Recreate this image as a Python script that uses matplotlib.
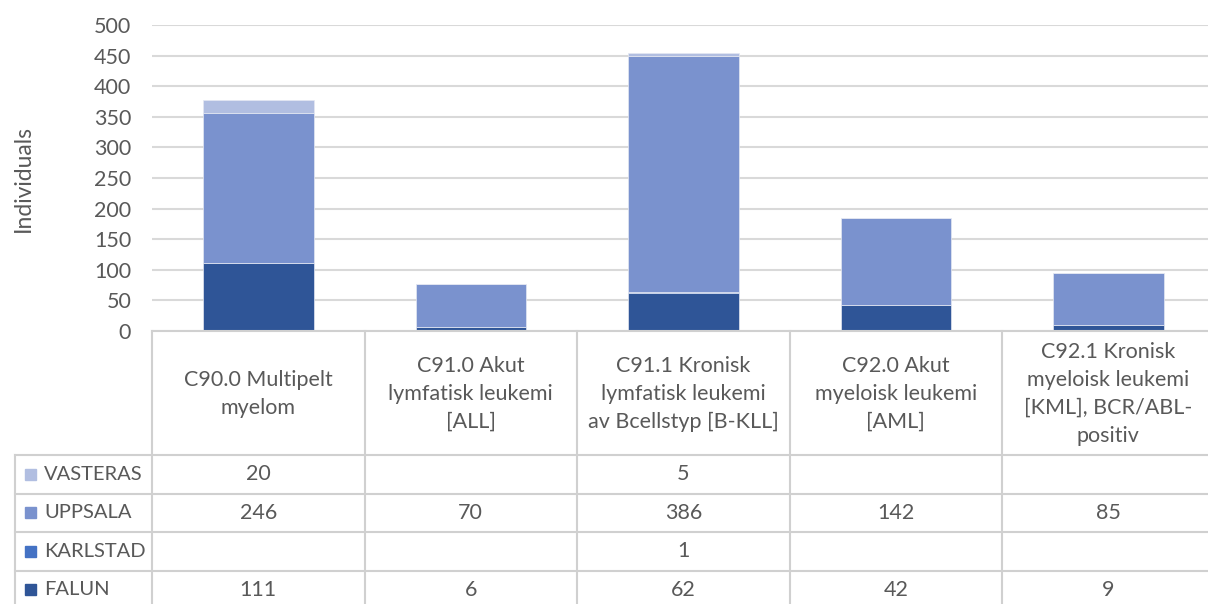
import numpy as np
import matplotlib
matplotlib.use("Agg")
import matplotlib.pyplot as plt
from matplotlib.patches import Rectangle

plt.rcParams['font.family'] = ['Lato', 'DejaVu Sans']

categories = [
    "C90.0 Multipelt\nmyelom",
    "C91.0 Akut\nlymfatisk leukemi\n[ALL]",
    "C91.1 Kronisk\nlymfatisk leukemi\nav Bcellstyp [B-KLL]",
    "C92.0 Akut\nmyeloisk leukemi\n[AML]",
    "C92.1 Kronisk\nmyeloisk leukemi\n[KML], BCR/ABL-\npositiv",
]
falun = [111, 6, 62, 42, 9]
karlstad = [None, None, 1, None, None]
uppsala = [246, 70, 386, 142, 85]
vasteras = [20, None, 5, None, None]

series_names = ["FALUN", "KARLSTAD", "UPPSALA", "VASTERAS"]
series_vals = [falun, karlstad, uppsala, vasteras]
colors = {"FALUN": "#2F5597", "KARLSTAD": "#4472C4",
          "UPPSALA": "#7A92CE", "VASTERAS": "#B1BEE1"}
yticks = [0, 50, 100, 150, 200, 250, 300, 350, 400, 450, 500]

TXT = "#595959"
GRID = "#D9D9D9"
FS = 15.5
W, H = 1208, 604
fig = plt.figure(figsize=(W / 100, H / 100), dpi=100)

# pixel geometry
ax_left, ax_right, ax_top, ax_bot = 152, 1214.5, 25, 331
ax = fig.add_axes([ax_left / W, 1 - ax_bot / H, (ax_right - ax_left) / W, (ax_bot - ax_top) / H])
tax = fig.add_axes([0, 0, 1, 1])
tax.set_xlim(0, W)
tax.set_ylim(H, 0)
tax.axis("off")
tax.patch.set_alpha(0)

x = np.arange(len(categories))
bottom = np.zeros(len(categories))
for name, vals in zip(series_names, series_vals):
    v = np.array([0 if a is None else a for a in vals], dtype=float)
    ax.bar(x, v, width=0.52, bottom=bottom, color=colors[name],
           edgecolor="#E4E8F2", linewidth=0.5, zorder=3)
    bottom += v

ax.set_xlim(-0.5, len(categories) - 0.5)
ax.set_ylim(0, 500)
ax.set_yticks(yticks)
ax.set_yticklabels([str(t) for t in yticks], color=TXT, fontsize=FS)
ax.tick_params(axis="y", length=0, pad=15)
ax.set_xticks([])
for s in ax.spines.values():
    s.set_visible(False)
ax.grid(axis="y", color=GRID, linewidth=1.5, zorder=0)
ax.set_ylabel("Individuals", color=TXT, fontsize=16.5)
ax.yaxis.set_label_coords((34 - ax_left) / (ax_right - ax_left), 0.5)
ax.patch.set_alpha(0)

# column edges in pixels, derived from the bar axes
fig.canvas.draw()
def xpix(d):
    return ax.transData.transform((d, 0))[0]
edges = [xpix(i - 0.5) for i in range(len(categories) + 1)]
centers = [xpix(i) for i in range(len(categories))]

LC = "#D0D0D0"
LW = 1.5
hdr_top, hdr_bot = 331, 455
row_h = 38.5
leg_left = 15
rows_order = ["VASTERAS", "UPPSALA", "KARLSTAD", "FALUN"]
row_vals = {n: v for n, v in zip(series_names, series_vals)}
table_bottom = hdr_bot + row_h * len(rows_order)

# vertical lines
for e in edges:
    tax.plot([e, e], [hdr_top, table_bottom], color=LC, lw=LW, clip_on=False)
tax.plot([leg_left, leg_left], [hdr_bot, table_bottom], color=LC, lw=LW)
# horizontal lines
tax.plot([edges[0], edges[-1]], [hdr_top, hdr_top], color=LC, lw=LW, clip_on=False)
for r in range(len(rows_order) + 1):
    yy = hdr_bot + r * row_h
    tax.plot([leg_left, edges[-1]], [yy, yy], color=LC, lw=LW, clip_on=False)

# header text
for c, lab in zip(centers, categories):
    tax.text(c, (hdr_top + hdr_bot) / 2 + 1, lab, ha="center", va="center",
             color=TXT, fontsize=FS, linespacing=1.5)

# rows
for r, name in enumerate(rows_order):
    yc = hdr_bot + (r + 0.5) * row_h
    tax.add_patch(Rectangle((25, yc - 5.5), 11, 11, color=colors[name]))
    tax.text(44, yc, name, ha="left", va="center", color=TXT, fontsize=14.5)
    for c, v in zip(centers, row_vals[name]):
        if v is not None:
            tax.text(c, yc, str(v), ha="center", va="center", color=TXT, fontsize=FS)

fig.savefig("out.png", dpi=100)
